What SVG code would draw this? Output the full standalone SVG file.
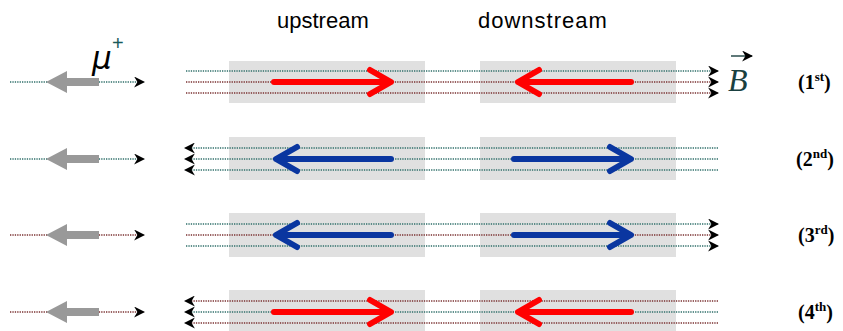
<svg xmlns="http://www.w3.org/2000/svg" width="843" height="331" viewBox="0 0 843 331">
<style>
.box{fill:#e0e0e0}
.fl{stroke:#2f6f6a;stroke-width:1.3;stroke-dasharray:1.3 1.1;fill:none}
.fr{stroke:#7a3030;stroke-width:1.3;stroke-dasharray:1.3 1.1;fill:none}
.red{stroke:#ff0000;stroke-width:6;fill:none;stroke-linecap:round;stroke-linejoin:round}
.blue{stroke:#0a36a0;stroke-width:6;fill:none;stroke-linecap:round;stroke-linejoin:round}
.mu{fill:#999999}
.hd{font-family:"Liberation Sans",Arial,sans-serif;font-size:22px;fill:#000}
.lb{font-family:"Liberation Serif","Times New Roman",serif;font-size:20px;font-weight:bold;fill:#000}
.sup{font-size:13px}
</style>
<defs>
<marker id="ah" viewBox="0 0 10 10" refX="9" refY="5" markerWidth="11" markerHeight="11" markerUnits="userSpaceOnUse" orient="auto">
<path d="M0,0 L10,5 L0,10 L3,5 Z" fill="#000"/>
</marker>
</defs>
<g id="headers">
<text class="hd" x="277" y="28">upstream</text>
<text class="hd" x="478" y="28" letter-spacing="1">downstream</text>
</g>
<g id="boxes">
<rect class="box" x="229" y="61" width="196" height="42"/>
<rect class="box" x="480" y="61" width="196" height="42"/>
<rect class="box" x="229" y="137" width="196" height="43"/>
<rect class="box" x="480" y="137" width="196" height="43"/>
<rect class="box" x="229" y="213" width="196" height="44"/>
<rect class="box" x="480" y="213" width="196" height="44"/>
<rect class="box" x="229" y="290" width="196" height="41"/>
<rect class="box" x="480" y="290" width="196" height="41"/>
</g>
<g id="connectors">
<path class="fl" d="M10,82 H144" marker-end="url(#ah)"/>
<path class="fl" d="M186,71 H718" marker-end="url(#ah)"/>
<path class="fr" d="M186,82 H718" marker-end="url(#ah)"/>
<path class="fr" d="M186,93 H718" marker-end="url(#ah)"/>
<path class="fl" d="M10,159 H144" marker-end="url(#ah)"/>
<path class="fl" d="M718,148 H185" marker-end="url(#ah)"/>
<path class="fl" d="M718,159 H185" marker-end="url(#ah)"/>
<path class="fl" d="M718,170 H185" marker-end="url(#ah)"/>
<path class="fr" d="M10,235 H144" marker-end="url(#ah)"/>
<path class="fl" d="M186,224 H718" marker-end="url(#ah)"/>
<path class="fr" d="M186,235 H718" marker-end="url(#ah)"/>
<path class="fl" d="M186,246 H718" marker-end="url(#ah)"/>
<path class="fr" d="M10,312 H144" marker-end="url(#ah)"/>
<path class="fr" d="M718,301 H185" marker-end="url(#ah)"/>
<path class="fl" d="M718,312 H185" marker-end="url(#ah)"/>
<path class="fr" d="M718,323 H185" marker-end="url(#ah)"/>
</g>
<g id="muons">
<polygon class="mu" points="46,82 67,71 67,78 99,78 99,86 67,86 67,93"/>
<polygon class="mu" points="46,159 67,148 67,155 99,155 99,163 67,163 67,170"/>
<polygon class="mu" points="46,235 67,224 67,231 99,231 99,239 67,239 67,246"/>
<polygon class="mu" points="46,312 67,301 67,308 99,308 99,316 67,316 67,323"/>
</g>
<g id="field-arrows">
<path class="red" d="M274,82 H390 M370,70 L391,82 L370,94"/>
<path class="red" d="M631,82 H519 M539,70 L518,82 L539,94"/>
<path class="blue" d="M391,159 H277 M297,147 L276,159 L297,171"/>
<path class="blue" d="M514,159 H630 M610,147 L631,159 L610,171"/>
<path class="blue" d="M391,235 H277 M297,223 L276,235 L297,247"/>
<path class="blue" d="M514,235 H630 M610,223 L631,235 L610,247"/>
<path class="red" d="M274,312 H390 M370,300 L391,312 L370,324"/>
<path class="red" d="M631,312 H519 M539,300 L518,312 L539,324"/>
</g>
<g id="symbols">
<text x="92" y="69" font-family="DejaVu Sans,sans-serif" font-style="italic" font-size="31" fill="#000">μ</text>
<text x="112" y="50" font-family="Liberation Sans,sans-serif" font-size="20" fill="#1a5a5a">+</text>
<text x="728" y="91" font-family="Liberation Serif,serif" font-style="italic" font-size="32" fill="#1a4040">B</text>
<path d="M731,56 H752" stroke="#1a4040" stroke-width="1.4" marker-end="url(#ah)"/>
</g>
<g id="labels">
<text class="lb" x="798" y="89">(1<tspan class="sup" dy="-8">st</tspan><tspan dy="8">)</tspan></text>
<text class="lb" x="796" y="166">(2<tspan class="sup" dy="-8">nd</tspan><tspan dy="8">)</tspan></text>
<text class="lb" x="798" y="242">(3<tspan class="sup" dy="-8">rd</tspan><tspan dy="8">)</tspan></text>
<text class="lb" x="798" y="319">(4<tspan class="sup" dy="-8">th</tspan><tspan dy="8">)</tspan></text>
</g>
</svg>
